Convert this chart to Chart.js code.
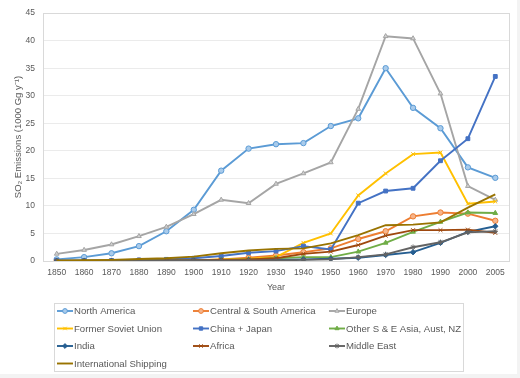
<!DOCTYPE html>
<html>
<head>
<meta charset="utf-8">
<script src="https://cdn.jsdelivr.net/npm/chart.js@4.4.1/dist/chart.umd.min.js"></script>
<style>
body { margin:0; background:#f3f3f3; }
#box { position:absolute; left:0; top:0; width:517px; height:374px; background:#fff; }
</style>
</head>
<body>
<div id="box"><canvas id="c1" width="517" height="374"></canvas></div>
<script>
//////////////////////////////////////
// data (1000 Gg / yr)
var years = ['1850','1860','1870','1880','1890','1900','1910','1920','1930','1940','1950','1960','1970','1980','1990','2000','2005'];
var yTicks = [0,5,10,15,20,25,30,35,40,45];

var northAmerica = [0.3,0.7,1.4,2.7,5.4,9.3,16.4,20.4,21.2,21.4,24.5,25.9,35.0,27.8,24.1,17.0,15.1];
var centralSouthAmerica = [0.0,0.0,0.0,0.05,0.1,0.1,0.3,0.6,1.0,1.6,2.3,4.0,5.4,8.1,8.8,8.6,7.3];
var europe = [1.3,2.0,3.0,4.5,6.2,8.5,11.1,10.5,14.0,15.9,17.9,27.6,40.8,40.4,30.4,13.6,11.1];
var formerSoviet = [0.0,0.0,0.05,0.05,0.1,0.1,0.3,0.4,0.7,3.3,5.0,11.9,15.9,19.4,19.7,10.4,10.8];
var chinaJapan = [0.1,0.1,0.1,0.2,0.3,0.5,0.9,1.5,1.8,2.7,2.1,10.5,12.7,13.2,18.2,22.2,33.5];
var otherAsia = [0.0,0.0,0.0,0.05,0.1,0.1,0.2,0.3,0.5,0.7,0.7,1.7,3.3,5.3,7.1,8.8,8.7];
var india = [0.0,0.0,0.0,0.0,0.05,0.1,0.1,0.2,0.2,0.3,0.4,0.6,1.1,1.6,3.3,5.3,6.3];
var africa = [0.0,0.0,0.0,0.05,0.1,0.1,0.2,0.3,0.5,1.3,1.7,2.9,4.6,5.6,5.6,5.7,5.1];
var middleEast = [0.0,0.0,0.0,0.0,0.0,0.05,0.1,0.1,0.1,0.2,0.3,0.7,1.2,2.5,3.4,5.2,5.4];
var shipping = [0.1,0.15,0.2,0.35,0.5,0.8,1.4,1.9,2.2,2.3,3.2,4.7,6.5,6.6,7.0,9.7,12.1];

var FONT = "'Liberation Sans', Arial, sans-serif";
var TXT = '#595959';

//one entry per series: label, values, line colour, marker fill, marker
var series = [
	['North America', northAmerica, '#5B9BD5', '#A9CBEB', 'circle'],
	['Central & South America', centralSouthAmerica, '#ED7D31', '#F6B58C', 'circle'],
	['Europe', europe, '#A5A5A5', '#D0D0D0', 'triangle'],
	['Former Soviet Union', formerSoviet, '#FFC000', '#FFC000', 'crossRot'],
	['China + Japan', chinaJapan, '#4472C4', '#4472C4', 'rect'],
	['Other S & E Asia, Aust, NZ', otherAsia, '#70AD47', '#70AD47', 'triangle'],
	['India', india, '#255E91', '#255E91', 'rectRot'],
	['Africa', africa, '#9E480E', '#9E480E', 'crossRot'],
	['Middle East', middleEast, '#636363', '#636363', 'star'],
	['International Shipping', shipping, '#997300', '#997300', false]
];

var datasets = [];
for (var i = 0; i < series.length; i++) {
	var s = series[i];
	datasets.push({
		label: s[0],
		data: s[1],
		borderColor: s[2],
		backgroundColor: s[3],
		pointBackgroundColor: s[3],
		pointBorderColor: s[2],
		pointStyle: s[4],
		pointRadius: s[4] ? 2.7 : 0,
		pointBorderWidth: 1,
		borderWidth: 1.9,
		tension: 0,
		fill: false,
		//later series on top, like the original
		order: series.length - i
	});
}

//draws a marker, with a fallback if helpers are missing
function marker(ctx, style, x, y, r) {
	if (!style) return;
	if (Chart.helpers && Chart.helpers.drawPoint) {
		Chart.helpers.drawPoint(ctx, {pointStyle: style, radius: r, rotation: 0, borderWidth: 1}, x, y);
		return;
	}
	ctx.beginPath();
	ctx.arc(x, y, r, 0, Math.PI * 2);
	ctx.fill();
	ctx.stroke();
}

//plot frame + legend box, drawn by hand (3 columns)
var extras = {
	id: 'extras',
	beforeDatasetsDraw: function(chart) {
		var a = chart.chartArea, ctx = chart.ctx;
		ctx.save();
		ctx.strokeStyle = '#d9d9d9';
		ctx.lineWidth = 1;
		ctx.strokeRect(Math.round(a.left) + 0.5, Math.round(a.top) + 0.5, Math.round(a.right - a.left), Math.round(a.bottom - a.top));
		ctx.restore();
	},
	afterDraw: function(chart) {
		var ctx = chart.ctx;
		ctx.save();
		ctx.strokeStyle = '#d9d9d9';
		ctx.lineWidth = 1;
		ctx.strokeRect(54.5, 303.5, 409, 68);
		var colX = [57, 193, 329];
		var rowY = [311, 328.5, 346, 363.5];
		ctx.font = '9.6px ' + FONT;
		ctx.textBaseline = 'middle';
		for (var i = 0; i < series.length; i++) {
			var s = series[i];
			var x = colX[i % 3], y = rowY[Math.floor(i / 3)];
			ctx.strokeStyle = s[2];
			ctx.lineWidth = 1.9;
			ctx.beginPath();
			ctx.moveTo(x, y);
			ctx.lineTo(x + 16, y);
			ctx.stroke();
			ctx.fillStyle = s[3];
			ctx.strokeStyle = s[2];
			ctx.lineWidth = 1;
			marker(ctx, s[4], x + 8, y, 2.4);
			ctx.fillStyle = TXT;
			ctx.fillText(s[0], x + 17, y + 0.5);
		}
		ctx.restore();
	}
};

var chart = new Chart(document.getElementById('c1'), {
	type: 'line',
	data: {labels: years, datasets: datasets},
	plugins: [extras],
	options: {
		responsive: false,
		animation: false,
		layout: {padding: {left: 0, top: 6, right: 8, bottom: 78}},
		plugins: {legend: {display: false}, tooltip: {enabled: false}},
		scales: {
			x: {
				type: 'category',
				offset: true,
				grid: {display: false, drawTicks: false},
				border: {display: false},
				ticks: {color: TXT, font: {family: FONT, size: 8.5}, padding: 7, maxRotation: 0, autoSkip: false},
				title: {display: true, text: 'Year', color: TXT, font: {family: FONT, size: 9}, padding: {top: 0, bottom: 3}},
				afterFit: function(scale) { scale.height = 35; }
			},
			y: {
				min: 0,
				max: 45,
				afterBuildTicks: function(scale) {
					scale.ticks = yTicks.map(function(v) { return {value: v}; });
				},
				grid: {color: '#ebebeb', drawTicks: false},
				border: {display: false},
				ticks: {color: TXT, font: {family: FONT, size: 8.5}, padding: 8},
				title: {display: true, text: 'SO\u2082 Emissions (1000 Gg y\u207B\u00B9)', color: TXT, font: {family: FONT, size: 9.5}, padding: {top: 13, bottom: 0}},
				afterFit: function(scale) { scale.width = 43; }
			}
		}
	}
});
</script>
</body>
</html>
